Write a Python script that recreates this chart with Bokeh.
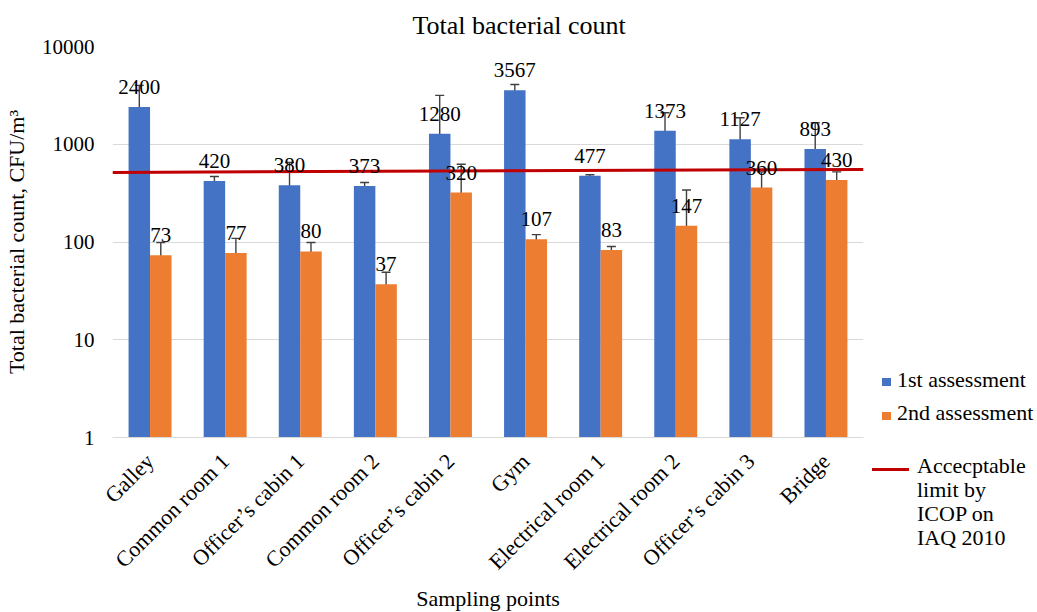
import math
from bokeh.plotting import figure
from bokeh.layouts import row
from bokeh.models import (ColumnDataSource, FactorRange, Range1d, Whisker, TeeHead,
                          FixedTicker, PrintfTickFormatter, Div)
from bokeh.transform import dodge
from bokeh.core.properties import value
from bokeh.embed import file_html
from bokeh.resources import INLINE

cats = ["Galley", "Common room 1", "Officer\u2019s cabin 1", "Common room 2",
        "Officer\u2019s cabin 2", "Gym", "Electrical room 1", "Electrical room 2",
        "Officer\u2019s cabin 3", "Bridge"]
first = [2400, 420, 380, 373, 1280, 3567, 477, 1373, 1127, 893]
second = [73, 77, 80, 37, 320, 107, 83, 147, 360, 430]
first_upper = [4000, 468, 650, 406, 3162, 4090, 488, 2100, 1870, 1660]
first_lower = [1370, 391, 244, 333, 169, 3162, 462, 119, 486, 376]
second_upper = [99, 109, 99, 49, 625, 119, 90, 340, 522, 522]
second_lower = [50, 60, 60, 10, 110, 99, 72, 50, 244, 334]
limit_y = [515, 552]
y_ticks = [1, 10, 100, 1000, 10000]
series_names = ["1st assessment", "2nd assessment"]
limit_lines = ["Accecptable", "limit by", "ICOP on", "IAQ 2010"]

FONT = "Liberation Serif"
BLUE = "#4472C4"
ORANGE = "#ED7D31"
RED = "#C00000"
ERR = "#404040"
FS = "22px"

TOP = 46
FRAME_H = 391
BOTTOM = 170
TOTAL_H = TOP + FRAME_H + BOTTOM
MAIN_W = 105 + 751 + 8
LEG_W = 1021 - MAIN_W

src = ColumnDataSource(dict(
    cat=cats, first=first, second=second,
    first_up=first_upper, first_lo=first_lower,
    second_up=second_upper, second_lo=second_lower,
    first_lbl=[str(v) for v in first], second_lbl=[str(v) for v in second],
))

p = figure(x_range=FactorRange(factors=cats), y_range=Range1d(1, 10000),
           y_axis_type="log", frame_width=751, frame_height=FRAME_H,
           min_border_left=105, min_border_right=8, min_border_top=TOP,
           min_border_bottom=BOTTOM, output_backend="svg",
           toolbar_location=None, title="Total bacterial count")

p.title.align = "left"
p.title.offset = 300
p.title.vertical_align = "top"
p.title.text_font = FONT
p.title.text_font_size = "26px"
p.title.text_font_style = "normal"
p.title.text_color = "black"

off = 0.143
bw = 0.286
p.vbar(x=dodge("cat", -off, range=p.x_range), top="first", bottom=1, width=bw,
       source=src, fill_color=BLUE, line_color=None)
p.vbar(x=dodge("cat", off, range=p.x_range), top="second", bottom=1, width=bw,
       source=src, fill_color=ORANGE, line_color=None)

lsrc = ColumnDataSource(dict(x=[(cats[0], -0.5), (cats[-1], 0.5)], y=limit_y))
p.line(x="x", y="y", source=lsrc, line_color=RED, line_width=3)

for base_off, up, lo in [(-off, "first_up", "first_lo"), (off, "second_up", "second_lo")]:
    w = Whisker(source=src, base=dodge("cat", base_off, range=p.x_range),
                upper=up, lower=lo, dimension="height",
                line_color=ERR, line_width=1.4,
                upper_head=TeeHead(size=9, line_color=ERR, line_width=1.4),
                lower_head=TeeHead(size=9, line_color=ERR, line_width=1.4))
    p.add_layout(w)

for base_off, col, lbl in [(-off, "first", "first_lbl"), (off, "second", "second_lbl")]:
    p.text(x=dodge("cat", base_off, range=p.x_range), y=col, text=lbl, source=src,
           text_align="center", text_baseline="alphabetic", y_offset=-20,
           text_font=value(FONT), text_font_size="21px", text_color="black")

# axes
p.xgrid.grid_line_color = None
p.ygrid.grid_line_color = "#D9D9D9"
p.yaxis.ticker = FixedTicker(ticks=y_ticks)
p.yaxis.formatter = PrintfTickFormatter(format="%d")
p.yaxis.axis_line_color = None
p.yaxis.major_tick_line_color = None
p.yaxis.minor_tick_line_color = None
p.yaxis.major_tick_out = 0
p.yaxis.major_tick_in = 0
p.yaxis.major_label_standoff = 18
p.yaxis.axis_label = "Total bacterial count, CFU/m³"
p.yaxis.axis_label_standoff = 10

p.xaxis.axis_line_color = "#D9D9D9"
p.xaxis.major_tick_line_color = None
p.xaxis.major_tick_out = 0
p.xaxis.major_tick_in = 0
p.xaxis.major_label_orientation = math.pi / 4
p.xaxis.major_label_standoff = 20
p.xaxis.axis_label = "Sampling points"
p.xaxis.axis_label_standoff = 0

for ax in (p.xaxis[0], p.yaxis[0]):
    ax.major_label_text_font = FONT
    ax.major_label_text_font_size = "21px"
    ax.major_label_text_color = "black"
    ax.axis_label_text_font = FONT
    ax.axis_label_text_font_size = FS
    ax.axis_label_text_font_style = "normal"
    ax.axis_label_text_color = "black"
p.xaxis.major_label_text_font_size = FS

p.outline_line_color = None

# legend, as an HTML block to the right of the plot
def box(left, top, w, h, color):
    return (f'<div style="position:absolute;left:{left}px;top:{top}px;width:{w}px;'
            f'height:{h}px;background:{color};"></div>')

def txt(left, top, s):
    return (f'<div style="position:absolute;left:{left}px;top:{top}px;'
            f'white-space:nowrap;line-height:24px;">{s}</div>')

parts = [box(6, 373, 9, 8, BLUE), txt(21, 363, series_names[0]),
         box(6, 407, 9, 8, ORANGE), txt(21, 396, series_names[1]),
         box(-4, 463, 37, 3, RED),
         txt(41, 449, "<br>".join(limit_lines))]
html = (f'<div style="position:relative;width:{LEG_W}px;height:{TOTAL_H}px;'
        f'overflow:visible;font-family:\'{FONT}\';font-size:{FS};color:black;">'
        + "".join(parts) + '</div>')
legend_div = Div(text=html, width=LEG_W, height=TOTAL_H)

layout = row(p, legend_div, spacing=0)
open("out.html", "w").write(file_html(layout, INLINE))
